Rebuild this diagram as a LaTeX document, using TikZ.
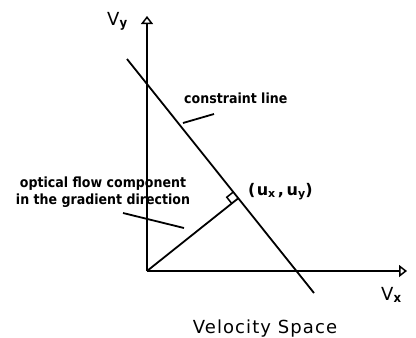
\documentclass[tikz,border=0pt]{standalone}
\usepackage{fontspec}
\setmainfont{DejaVu Sans}
\newfontfamily\lblfont[FakeStretch=0.9]{DejaVu Sans}
\newfontfamily\bigfont[LetterSpace=6]{DejaVu Sans}
\newfontfamily\ufont[LetterSpace=8]{DejaVu Sans}
\usetikzlibrary{arrows.meta,calc}
\begin{document}
\begin{tikzpicture}[x=1pt,y=-1pt,
  ln/.style={line width=1.8pt},
  axis/.style={ln,-{Triangle[open,length=8pt,width=12pt,line width=1.5pt]}},
  lbl/.style={font=\lblfont\bfseries\fontsize{14}{17}\selectfont, inner sep=0pt},
  biglbl/.style={font=\bigfont\fontsize{18}{22}\selectfont, inner sep=0pt},
  axlbl/.style={font=\fontsize{18}{22}\selectfont, inner sep=0pt}]
\useasboundingbox (0,0) rectangle (416,338);
\coordinate (O) at (147,271);
\coordinate (ytop) at (147,16);
\coordinate (xend) at (407,271);
\coordinate (c1) at (127,59);
\coordinate (c2) at (314,293);
\coordinate (F) at (238,198.5);
\draw[axis] (O) -- (ytop);
\draw[axis] (O) -- (xend);
\draw[ln] (c1) -- (c2);
\draw[ln] (O) -- (F);
% right angle mark
\draw[line width=1.5pt] ($(F)!8pt!(O)$) -- ($(F)!8pt!(O)+(F)!8pt!(c1)-(F)$) -- ($(F)!8pt!(c1)$);
\node[axlbl,anchor=base west] (vy) at (107,25) {V\raisebox{-0.3ex}{\lblfont\bfseries\fontsize{13}{15}\selectfont y}};
\node[axlbl,anchor=base west] (vx) at (381,300) {V\raisebox{-0.3ex}{\lblfont\bfseries\fontsize{13}{15}\selectfont x}};
\node[biglbl,anchor=base] (title) at (265,333) {Velocity Space};
\node[lbl,anchor=base west] (cl) at (184,103) {constraint line};
\node[lbl,anchor=base] (of1) at (103,187) {optical flow component};
\node[lbl,anchor=base] (of2) at (103,204) {in the gradient direction};
\node[anchor=base west,inner sep=0pt,font=\ufont\bfseries\fontsize{16}{19}\selectfont] (u) at (248,195) {(u\raisebox{-0.3ex}{\fontsize{11}{13}\selectfont x}\,,\,u\raisebox{-0.3ex}{\fontsize{11}{13}\selectfont y})};
\coordinate (clA) at (183,123);
\coordinate (clB) at (214,114);
\draw[ln] (clA) -- (clB);
\coordinate (ofA) at (123,213);
\coordinate (ofB) at (184,228);
\draw[ln] (ofA) -- (ofB);
\end{tikzpicture}
\end{document}
